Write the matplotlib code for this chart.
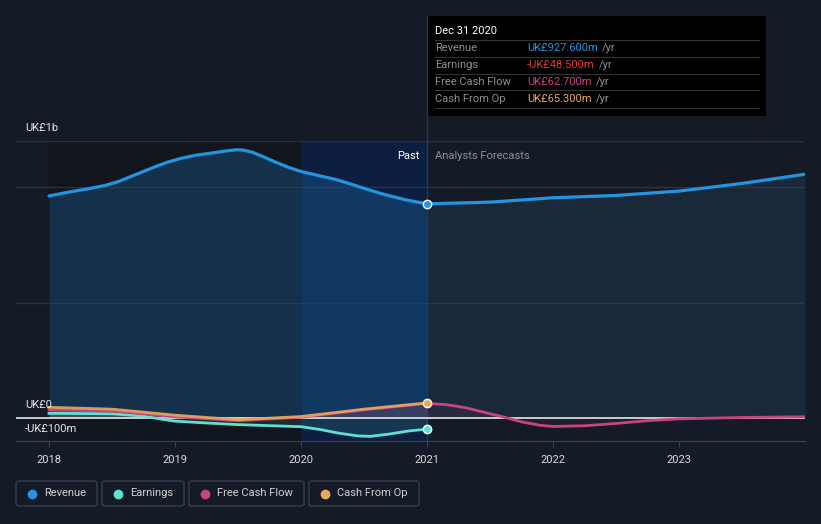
import numpy as np
import matplotlib as mpl
mpl.use('Agg')
import matplotlib.pyplot as plt
from matplotlib.patches import FancyBboxPatch, Rectangle
from matplotlib.lines import Line2D

plt.rcParams['font.family'] = ['Roboto', 'DejaVu Sans']

# revenue, UK£m (past then forecast)
rev_x = [2018.00, 2018.17, 2018.33, 2018.45, 2018.55, 2018.64, 2018.74, 2018.85, 2018.94, 2019.04,
         2019.16, 2019.32, 2019.42, 2019.49, 2019.55, 2019.62, 2019.70, 2019.80, 2019.90, 2020.00,
         2020.15, 2020.27, 2020.37, 2020.47, 2020.57, 2020.67, 2020.83, 2021.00]
rev_y = [962, 980, 995, 1008, 1024, 1044, 1066, 1090, 1108, 1124,
         1138, 1150, 1158, 1162, 1160, 1150, 1132, 1108, 1086, 1068,
         1049, 1034, 1018, 1000, 983, 967, 945, 927.6]
rev_fx = [2021.0, 2021.5, 2022.0, 2022.5, 2023.0, 2023.5, 2024.0]
rev_fy = [927.6, 935, 954, 964, 983, 1016, 1056]

earn_x = [2018.0, 2018.5, 2018.75, 2018.9, 2019.0, 2019.25, 2019.5, 2020.0, 2020.15, 2020.3,
          2020.45, 2020.55, 2020.7, 2020.85, 2021.0]
earn_y = [20, 18, 8, -6, -14, -22, -29, -38, -50, -66, -78, -80, -70, -57, -48.5]

fcf_x = [2018.0, 2018.5, 2019.0, 2019.5, 2020.0, 2020.5, 2021.0]
fcf_y = [35, 30, 5, -12, 3, 35, 62.7]
fcf_fx = [2021.0, 2021.15, 2021.3, 2021.45, 2021.6, 2021.75, 2021.9, 2022.0, 2022.25, 2022.5,
          2022.75, 2023.0, 2023.5, 2024.0]
fcf_fy = [62.7, 58, 45, 25, 5, -17, -32, -37, -34, -24, -12, -4, 2, 5]

cfo_x = [2018.0, 2018.5, 2019.0, 2019.5, 2020.0, 2020.5, 2021.0]
cfo_y = [46, 38, 12, -8, 6, 38, 65.3]

years = [2018, 2019, 2020, 2021, 2022, 2023]

c_bg = '#151b26'
c_rev = '#2394df'
c_earn = '#5fe0d0'
c_fcf = '#c64483'
c_cfo = '#e8a95a'

fig = plt.figure(figsize=(8.21, 5.24), dpi=100, facecolor=c_bg)
W, H = 821, 524

def fx(px):
    return px / W

def fy(py):
    return 1 - py / H

ax = fig.add_axes([fx(16), fy(441), fx(805) - fx(16), fy(141) - fy(441)])
ax.set_facecolor(c_bg)
ax.set_xlim(2017.738, 2024.0)
ax.set_ylim(-100, 1200)

# past regions
ax.axvspan(2018, 2020, color='#10151e', zorder=0)
ax.axvspan(2020, 2021, color='#0c1f40', zorder=0)

# revenue fill
i20 = rev_x.index(2020.00)
ax.fill_between(rev_x[:i20 + 1], rev_y[:i20 + 1], 0, color='#15304b', lw=0, zorder=2)
ax.fill_between(rev_x[i20:], rev_y[i20:], 0, color='#113763', lw=0, zorder=2)
ax.fill_between(rev_fx, rev_fy, 0, color='#19293a', lw=0, zorder=2)

# grid
for v in [1200, 1000, 500]:
    ax.axhline(v, color='#3a4452', lw=1, alpha=0.6, zorder=2.5)
ax.axhline(0, color='#e8e8e8', lw=1.2, zorder=4)

ax.plot(rev_x + rev_fx, rev_y + rev_fy, color=c_rev, lw=2.3, zorder=5,
        solid_capstyle='round', solid_joinstyle='round')

# small series
ax.fill_between(earn_x, earn_y, 0, color=c_earn, alpha=0.12, lw=0, zorder=3)
ax.fill_between(fcf_x, fcf_y, 0, color=c_fcf, alpha=0.12, lw=0, zorder=3)
ax.fill_between(cfo_x, cfo_y, 0, color=c_cfo, alpha=0.08, lw=0, zorder=3)
ax.fill_between(fcf_fx, fcf_fy, 0, color=c_fcf, alpha=0.08, lw=0, zorder=3)
ax.plot(earn_x, earn_y, color=c_earn, lw=2, zorder=5, solid_joinstyle='round')
ax.plot(fcf_x + fcf_fx, fcf_y + fcf_fy, color=c_fcf, lw=2, zorder=5, solid_joinstyle='round')
ax.plot(cfo_x, cfo_y, color=c_cfo, lw=2, zorder=6, alpha=0.9, solid_joinstyle='round')

# markers at Dec 31 2020
ax.scatter([2021], [rev_y[-1]], s=36, color=c_rev, edgecolor='white', lw=1, zorder=8)
ax.scatter([2021], [earn_y[-1]], s=36, color=c_earn, edgecolor='white', lw=1, zorder=8)
ax.scatter([2021], [cfo_y[-1]], s=36, color=c_cfo, edgecolor='white', lw=1, zorder=8)

ax.axvline(2021, color='#24395a', lw=1, zorder=2.6)

for s in ax.spines.values():
    s.set_visible(False)
ax.spines['bottom'].set_visible(True)
ax.spines['bottom'].set_color('#3c434e')
ax.set_yticks([])
ax.set_xticks(years)
ax.set_xticklabels([str(y) for y in years], color='#d8d8d8', fontsize=8)
ax.tick_params(axis='x', length=4, color='#3c434e', pad=6)

ax.text(2020.94, 1135, 'Past', color='white', fontsize=8, ha='right', va='center')
ax.text(2021.06, 1135, 'Analysts Forecasts', color='#8a8f98', fontsize=8, ha='left', va='center')

# y labels
fig.text(fx(25), fy(128), 'UK£1b', color='#e8e8e8', fontsize=8, va='center')
fig.text(fx(25), fy(405), 'UK£0', color='#e8e8e8', fontsize=8, va='center')
fig.text(fx(25), fy(429), '-UK£100m', color='#e8e8e8', fontsize=8, va='center')

# tooltip
fig.add_artist(Line2D([fx(427), fx(427)], [fy(141), fy(16)], color='#24395a', lw=1))
fig.add_artist(Rectangle((fx(427), fy(116)), fx(766) - fx(427), fy(16) - fy(116),
                         facecolor='#000000', edgecolor='none', transform=fig.transFigure))
fig.text(fx(435), fy(31), 'Dec 31 2020', color='white', fontsize=8, va='center')
rows = [('Revenue', 'UK£927.600m', c_rev),
        ('Earnings', '-UK£48.500m', '#e5383b'),
        ('Free Cash Flow', 'UK£62.700m', c_fcf),
        ('Cash From Op', 'UK£65.300m', c_cfo)]
for i, (lab, val, col) in enumerate(rows):
    yy = 48 + i * 17
    fig.add_artist(Line2D([fx(435), fx(759)], [fy(yy - 8.5), fy(yy - 8.5)], color='#333333', lw=0.8))
    fig.text(fx(435), fy(yy), lab, color='#8b8f96', fontsize=8, va='center')
    t = fig.text(fx(527), fy(yy), val, color=col, fontsize=8, va='center')
    fig.canvas.draw()
    bb = t.get_window_extent()
    fig.text(bb.x1 / W + fx(4), fy(yy), '/yr', color='#8b8f96', fontsize=8, va='center')
fig.add_artist(Line2D([fx(435), fx(759)], [fy(108), fy(108)], color='#333333', lw=0.8))

# legend boxes
legend = [('Revenue', c_rev, 16, 97), ('Earnings', c_earn, 102, 184),
          ('Free Cash Flow', c_fcf, 189, 304), ('Cash From Op', c_cfo, 309, 419)]
for lab, col, x0, x1 in legend:
    fig.add_artist(FancyBboxPatch((fx(x0), fy(506)), fx(x1) - fx(x0), fy(481) - fy(506),
                                  boxstyle='round,pad=0,rounding_size=0.004',
                                  facecolor='none', edgecolor='#3a404b', lw=1,
                                  transform=fig.transFigure))
    fig.add_artist(Line2D([fx(x0 + 16)], [fy(493.5)], marker='o', markersize=6,
                          color=col, lw=0))
    fig.text(fx(x0 + 28), fy(493.5), lab, color='#d0d0d0', fontsize=8, va='center')

fig.savefig('out.png', dpi=100, facecolor=c_bg)
